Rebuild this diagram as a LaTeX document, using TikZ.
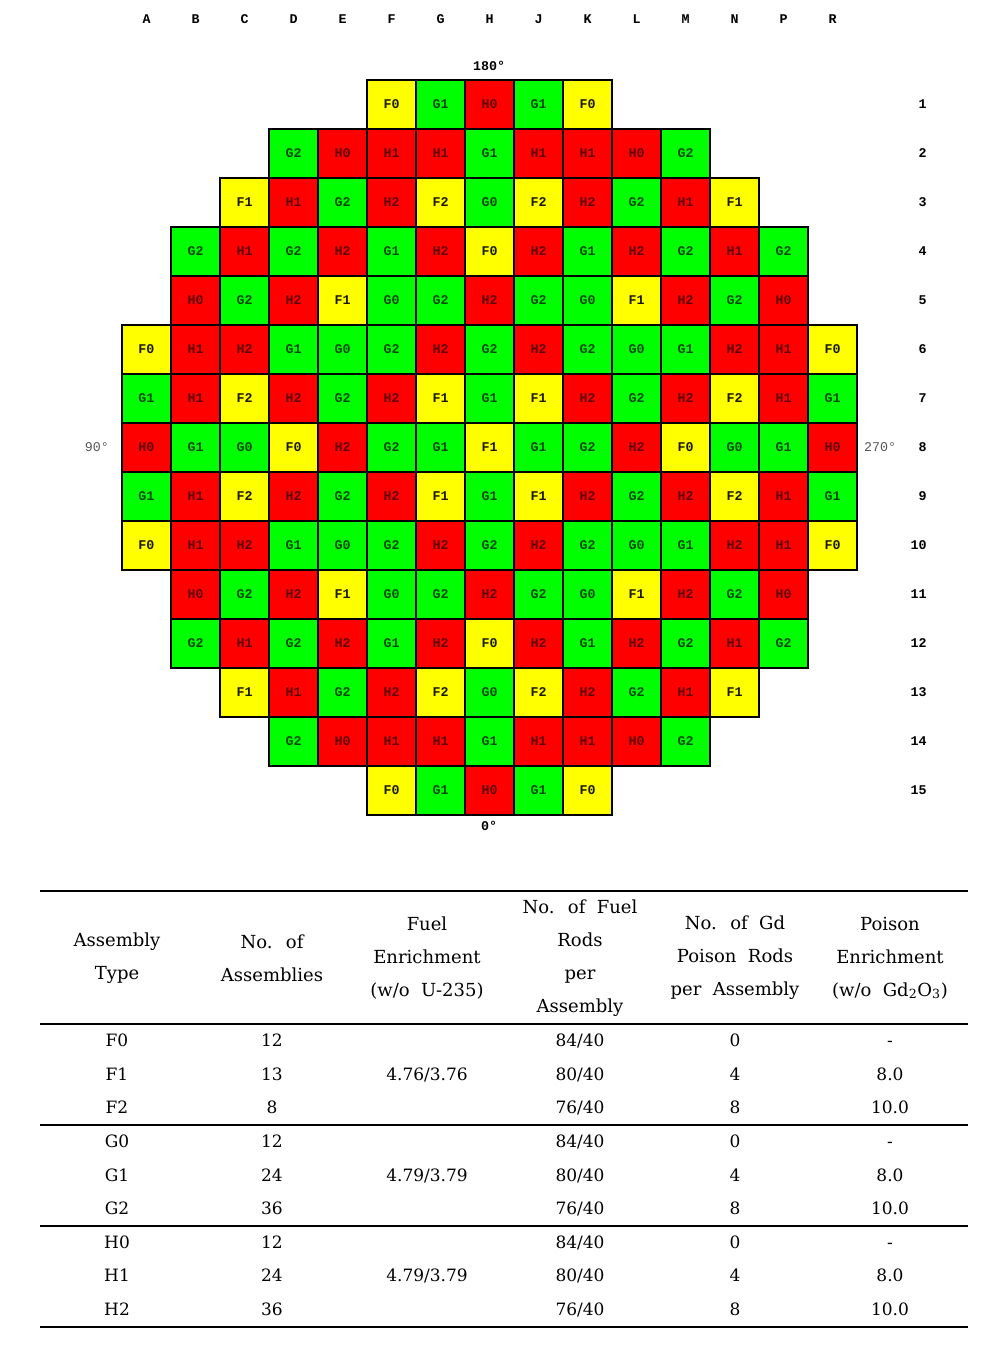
\documentclass[tikz,border=0pt]{standalone}
\usepackage{fontspec}
\setmainfont{DejaVu Serif}
\newfontfamily\cellfont{Liberation Mono}
\definecolor{cy}{HTML}{FFFF00}
\definecolor{cg}{HTML}{00FF00}
\definecolor{cr}{HTML}{FF0000}
\definecolor{ty}{HTML}{1A1A00}
\definecolor{tg}{HTML}{004A00}
\definecolor{tr}{HTML}{600000}
\definecolor{angray}{HTML}{555555}
\def\firstchar#1#2\relax{#1}
\begin{document}
\begin{tikzpicture}[x=0.75pt,y=-0.75pt,
  cellbox/.style={draw=black, line width=0.8pt, minimum size=36.75pt, inner sep=0pt,
    font=\cellfont\bfseries\fontsize{10}{11}\selectfont},
  cellF/.style={cellbox, fill=cy, text=ty},
  cellG/.style={cellbox, fill=cg, text=tg},
  cellH/.style={cellbox, fill=cr, text=tr},
  axlabel/.style={inner sep=0pt, font=\cellfont\bfseries\fontsize{10}{11}\selectfont},
  anglabel/.style={inner sep=0pt, text=angray, font=\cellfont\fontsize{10}{11}\selectfont},
  tabrule/.style={line width=1pt},
  hdr/.style={align=center, inner sep=0pt, font=\fontsize{13.5}{24.75}\selectfont},
  body/.style={anchor=base, inner sep=0pt, font=\fontsize{12.75}{15}\selectfont}
]
\useasboundingbox (0,0) rectangle (983,1346);

% column letters
\foreach \l/\c in {A/1,B/2,C/3,D/4,E/5,F/6,G/7,H/8,J/9,K/10,L/11,M/12,N/13,P/14,R/15}
  \node[axlabel] (col-\l) at ({146.5+(\c-1)*49},19) {\l};

% row numbers
\foreach \r in {1,...,15}
  \node[axlabel, anchor=east] (row-\r) at (927,{104.5+(\r-1)*49}) {\r};

% core map
\foreach \r/\s/\L in {
  1/6/{F0,G1,H0,G1,F0},
  2/4/{G2,H0,H1,H1,G1,H1,H1,H0,G2},
  3/3/{F1,H1,G2,H2,F2,G0,F2,H2,G2,H1,F1},
  4/2/{G2,H1,G2,H2,G1,H2,F0,H2,G1,H2,G2,H1,G2},
  5/2/{H0,G2,H2,F1,G0,G2,H2,G2,G0,F1,H2,G2,H0},
  6/1/{F0,H1,H2,G1,G0,G2,H2,G2,H2,G2,G0,G1,H2,H1,F0},
  7/1/{G1,H1,F2,H2,G2,H2,F1,G1,F1,H2,G2,H2,F2,H1,G1},
  8/1/{H0,G1,G0,F0,H2,G2,G1,F1,G1,G2,H2,F0,G0,G1,H0},
  9/1/{G1,H1,F2,H2,G2,H2,F1,G1,F1,H2,G2,H2,F2,H1,G1},
  10/1/{F0,H1,H2,G1,G0,G2,H2,G2,H2,G2,G0,G1,H2,H1,F0},
  11/2/{H0,G2,H2,F1,G0,G2,H2,G2,G0,F1,H2,G2,H0},
  12/2/{G2,H1,G2,H2,G1,H2,F0,H2,G1,H2,G2,H1,G2},
  13/3/{F1,H1,G2,H2,F2,G0,F2,H2,G2,H1,F1},
  14/4/{G2,H0,H1,H1,G1,H1,H1,H0,G2},
  15/6/{F0,G1,H0,G1,F0}}{
  \foreach \t [count=\k] in \L {
    \pgfmathtruncatemacro\c{\s+\k-1}
    \edef\tp{\expandafter\firstchar\t\relax}
    \node[cell\tp] (cell-\r-\c) at ({146.5+(\c-1)*49},{104.5+(\r-1)*49}) {\t};
  }
}

% orientation labels
\node[axlabel] (ang180) at (489,66) {180°};
\node[axlabel] (ang0) at (489,826) {0°};
\node[anglabel] (ang90) at (97,447) {90°};
\node[anglabel] (ang270) at (880,447) {270°};

% table rules
\draw[tabrule] (40,891) -- (968,891);
\draw[tabrule] (40,1024) -- (968,1024);
\draw[tabrule] (40,1125) -- (968,1125);
\draw[tabrule] (40,1226) -- (968,1226);
\draw[tabrule] (40,1327) -- (968,1327);

% header
\node[hdr] (h1) at (117,958) {Assembly\\Type};
\node[hdr] (h2) at (272,958) {No.~ of\\Assemblies};
\node[hdr] (h3) at (427,958) {Fuel\\Enrichment\\(w/o~ U-235)};
\node[hdr] (h4) at (580,958) {No.~ of~ Fuel\\Rods\\per\\Assembly};
\node[hdr] (h5) at (735,958) {No.~ of~ Gd\\Poison~ Rods\\per~ Assembly};
\node[hdr] (h6) at (890,958) {Poison\\Enrichment\\(w/o~ Gd\textsubscript{2}O\textsubscript{3})};

% body
\foreach \y/\t/\n/\fr/\gd/\pe in {
  1046/F0/12/84/0/-, 1080/F1/13/80/4/8.0, 1113/F2/8/76/8/10.0,
  1147/G0/12/84/0/-, 1181/G1/24/80/4/8.0, 1214/G2/36/76/8/10.0,
  1248/H0/12/84/0/-, 1281/H1/24/80/4/8.0, 1315/H2/36/76/8/10.0}{
  \node[body] (type-\t) at (117,\y) {\t};
  \node[body] (num-\t) at (272,\y) {\n};
  \node[body] (rods-\t) at (580,\y) {\fr/40};
  \node[body] (gd-\t) at (735,\y) {\gd};
  \node[body] (pe-\t) at (890,\y) {\pe};
}
\node[body] (enrF) at (427,1080) {4.76/3.76};
\node[body] (enrG) at (427,1181) {4.79/3.79};
\node[body] (enrH) at (427,1281) {4.79/3.79};
\end{tikzpicture}
\end{document}
